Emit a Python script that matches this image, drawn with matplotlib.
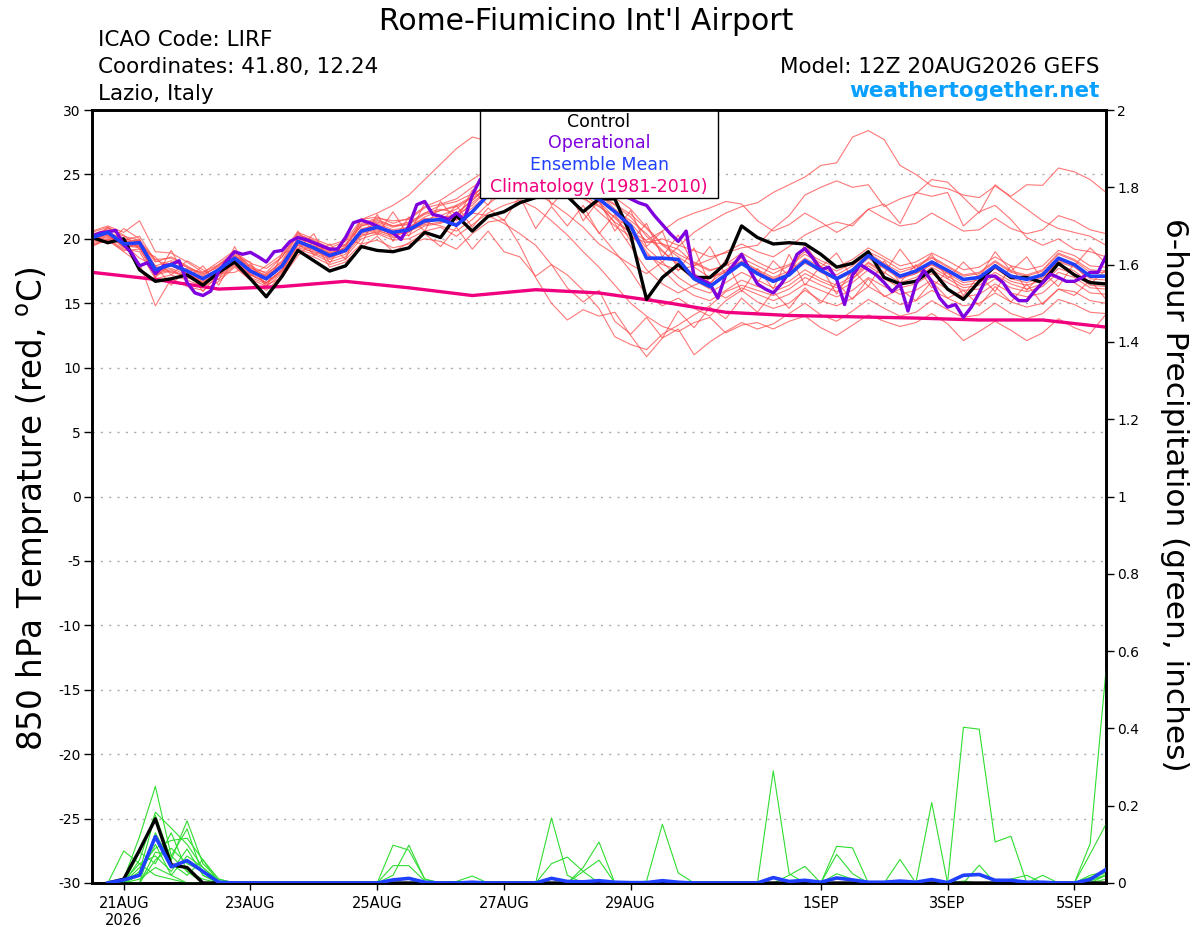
import numpy as np
import matplotlib
matplotlib.use("Agg")
import matplotlib.pyplot as plt
from matplotlib.patches import Rectangle

plt.rcParams['font.family'] = 'DejaVu Sans'
plt.rcParams['axes.unicode_minus'] = False

# forecast hours (run 12Z 20AUG2026)
horas6 = np.arange(0, 385, 6)
horas3 = np.arange(0, 385, 3)
horas24 = np.arange(0, 385, 24)
horas_pcp = horas6[1:]

tick_horas = [12, 60, 108, 156, 204, 276, 324, 372]
tick_fechas = ["21AUG\n2026", "23AUG", "25AUG", "27AUG", "29AUG", "1SEP", "3SEP", "5SEP"]

# ===== 850 hPa temperature (C) =====
control = [20.1, 19.7, 20.0, 17.6, 16.7, 16.9, 17.2, 16.4, 17.4, 18.2, 16.9, 15.5, 17.1,
           19.1, 18.3, 17.5, 17.9, 19.4, 19.1, 19.0, 19.3, 20.5, 20.1, 21.8, 20.6, 21.75,
           22.1, 22.8, 23.2, 23.5, 23.3, 22.1, 23.1, 23.1, 20.3, 15.3, 17.0, 18.0, 17.0,
           17.0, 18.1, 21.0, 20.1, 19.6, 19.7, 19.6, 18.8, 17.8, 18.1, 19.0, 17.0, 16.5,
           16.7, 17.6, 16.1, 15.3, 16.7, 17.9, 17.0, 17.0, 16.6, 18.1, 17.2, 16.6, 16.5]

media = [20.1, 20.5, 19.6, 19.7, 17.6, 18.0, 17.5, 16.9, 17.6, 18.5, 17.5, 16.9, 17.9,
         19.8, 19.3, 18.7, 19.1, 20.6, 20.9, 20.5, 20.7, 21.4, 21.5, 21.05, 22.1, 23.4,
         23.9, 24.1, 24.2, 24.0, 23.7, 23.4, 23.1, 22.1, 21.0, 18.5, 18.5, 18.4, 16.9,
         16.3, 17.2, 18.1, 17.3, 16.7, 17.2, 18.3, 17.55, 16.9, 17.55, 18.7, 17.9, 17.1,
         17.5, 18.2, 17.55, 16.85, 17.0, 17.9, 17.1, 16.85, 17.2, 18.5, 18.0, 17.1, 17.1]

# operational is 3-hourly
operacional = [20.2, 20.45, 20.55, 20.65, 19.55, 18.9, 17.9, 18.15, 17.3, 17.9, 18.0, 18.3,
               16.6, 15.8, 15.6, 15.95, 17.5, 18.3, 19.0, 18.8, 18.95, 18.6, 18.2, 19.0,
               19.1, 19.8, 20.1, 19.95, 19.7, 19.45, 19.2, 19.2, 20.1, 21.25, 21.45, 21.25,
               21.0, 20.7, 20.45, 19.95, 21.0, 22.65, 22.9, 21.9, 21.75,
               21.5, 22.0, 21.5, 23.4, 24.6, 24.8, 24.5, 24.7, 25.0, 25.2, 25.0, 24.8,
               25.0, 25.3, 25.1, 24.8, 24.6, 24.4, 24.3, 24.0, 23.8, 23.6, 23.4, 23.1, 22.8,
               22.6, 21.8, 21.1, 20.4, 19.8, 20.6, 17.1, 16.8, 16.5, 15.4, 17.2, 18.0, 18.8, 17.6,
               16.5, 16.1, 15.8, 16.5, 17.4, 18.8, 19.25, 18.5, 17.6, 17.8, 16.85, 14.9,
               17.2, 18.0, 17.6, 17.2, 16.6, 15.9, 16.5, 14.4, 16.5, 17.55, 16.7, 15.4,
               14.7, 14.9, 13.9, 14.7, 15.8, 17.1, 17.1, 16.6, 15.7, 15.2, 15.2, 15.95,
               16.6, 17.25, 17.0, 16.7, 16.7, 17.0, 17.4, 17.4, 18.65]

# climatology (1981-2010), daily
climatologia = [17.4, 16.85, 16.1, 16.3, 16.7, 16.2, 15.6, 16.05, 15.8, 15.1, 14.3,
                14.05, 13.95, 13.85, 13.7, 13.7, 13.15]

# ensemble members
tm01 = [20.3, 20.8, 20.2, 19.9, 18.2, 18.6, 17.9, 17.2, 17.9, 18.9, 17.9, 17.3, 18.2,
        20.1, 19.6, 19.0, 19.5, 21.0, 21.3, 20.9, 21.2, 22.0, 22.3, 22.0, 23.0, 24.2,
        24.8, 25.3, 25.6, 25.2, 24.6, 24.0, 23.5, 22.3, 21.2, 19.8, 19.6, 19.2, 18.1,
        17.5, 18.0, 18.9, 18.2, 17.6, 18.0, 19.0, 18.3, 17.8, 18.4, 19.3, 18.6, 17.9,
        18.2, 18.9, 18.3, 17.6, 17.8, 18.6, 17.9, 17.6, 17.9, 19.1, 18.7, 17.9, 17.8]
tm02 = [19.8, 20.2, 19.5, 19.3, 17.3, 17.6, 17.0, 16.5, 17.1, 18.0, 17.0, 16.5, 17.4,
        19.3, 19.0, 18.6, 19.4, 21.5, 22.0, 22.6, 23.4, 24.6, 25.8, 27.0, 27.9, 27.6,
        26.8, 26.2, 25.0, 24.4, 23.5, 22.0, 20.5, 19.0, 17.5, 15.6, 14.8, 15.4, 14.6,
        14.0, 15.2, 16.0, 15.1, 14.6, 15.0, 16.0, 15.2, 14.8, 15.4, 16.3, 15.6, 14.9,
        15.2, 16.0, 15.4, 14.8, 15.0, 15.8, 15.1, 14.7, 15.0, 16.1, 15.9, 15.2, 15.0]
tm03 = [19.6, 19.9, 19.0, 18.1, 14.8, 16.9, 16.3, 16.0, 16.7, 17.8, 16.8, 16.0, 17.1,
        19.0, 18.6, 18.0, 18.4, 19.6, 19.9, 19.3, 19.6, 20.0, 19.8, 19.2, 20.4, 21.3,
        21.5, 19.5, 17.0, 15.0, 13.7, 14.5, 14.0, 14.3, 12.5, 10.85, 12.3, 13.0, 11.0,
        12.0, 12.8, 13.5, 13.0, 13.4, 14.2, 15.0, 14.1, 13.6, 14.4, 15.3, 14.6, 14.0,
        14.3, 15.2, 14.5, 13.9, 14.1, 15.0, 14.2, 13.8, 14.2, 15.3, 14.9, 14.3, 14.2]
tm04 = [20.6, 21.0, 20.5, 21.4, 19.0, 18.9, 18.2, 17.4, 18.0, 19.0, 18.1, 17.7, 18.6,
        20.5, 20.0, 19.5, 19.9, 21.5, 21.7, 21.2, 21.6, 22.5, 23.0, 23.8, 24.6, 25.4,
        25.7, 26.0, 25.6, 24.9, 24.2, 23.4, 22.6, 21.3, 20.5, 19.9, 20.6, 21.5, 22.0,
        22.4, 22.9, 22.7, 21.4, 20.6, 21.1, 22.0, 21.3, 20.5, 21.2, 22.3, 21.6, 21.0,
        21.2, 22.0, 21.3, 20.6, 20.7, 21.6, 20.8, 20.4, 20.7, 21.8, 21.4, 20.7, 20.4]
tm05 = [20.0, 20.4, 19.8, 19.9, 17.9, 18.3, 17.8, 17.3, 17.8, 18.7, 17.8, 17.1, 18.1,
        20.0, 19.6, 19.1, 19.6, 21.0, 21.4, 21.0, 21.3, 22.0, 22.6, 22.9, 23.5, 24.1,
        24.5, 24.2, 23.6, 22.8, 21.9, 20.9, 19.6, 18.8, 18.0, 17.3, 18.2, 19.4, 20.5,
        21.3, 22.0, 22.5, 22.8, 23.6, 24.2, 24.8, 25.7, 25.9, 27.9, 28.4, 27.7, 25.7,
        25.0, 24.1, 23.9, 23.4, 23.2, 24.1, 23.3, 24.2, 24.15, 25.5, 25.2, 24.6, 23.6]
tm06 = [20.4, 20.6, 19.9, 20.2, 18.3, 18.0, 17.6, 17.4, 18.2, 19.1, 17.7, 17.4, 18.6,
        20.3, 19.9, 19.3, 19.8, 21.2, 21.6, 21.4, 21.5, 22.4, 22.7, 23.1, 24.0, 24.8,
        25.2, 25.5, 25.1, 24.6, 24.0, 23.3, 22.1, 21.0, 20.2, 19.7, 20.0, 19.5, 19.1,
        18.6, 18.9, 19.3, 19.5, 20.8, 21.8, 23.4, 24.0, 24.5, 24.0, 24.2, 22.5, 23.1,
        23.5, 24.6, 24.4, 23.2, 22.0, 24.2, 23.2, 22.3, 21.4, 20.8, 20.5, 20.2, 19.5]
tm07 = [19.9, 20.1, 19.7, 19.4, 17.5, 17.7, 17.2, 16.8, 17.4, 18.3, 17.3, 16.6, 17.6,
        19.5, 19.1, 18.5, 19.0, 20.3, 20.5, 20.1, 20.3, 21.0, 21.2, 21.7, 22.8, 23.8,
        24.4, 24.9, 25.3, 25.0, 24.4, 23.8, 22.9, 21.6, 20.4, 18.8, 18.0, 17.6, 17.9,
        18.4, 19.0, 19.6, 19.0, 18.6, 19.4, 20.3, 20.9, 21.3, 21.0, 22.3, 22.7, 21.2,
        23.6, 23.3, 23.6, 21.0, 22.1, 22.6, 21.5, 20.1, 19.5, 20.0, 19.2, 19.0, 18.6]
tm08 = [19.7, 20.0, 19.2, 19.0, 16.9, 17.2, 16.8, 16.3, 16.9, 17.9, 16.9, 16.3, 17.3,
        19.2, 18.8, 18.2, 18.6, 20.0, 20.4, 19.9, 20.0, 20.6, 20.9, 20.2, 21.1, 22.0,
        22.6, 23.0, 22.4, 21.4, 20.3, 19.0, 17.8, 16.4, 15.0, 14.0, 13.2, 12.8, 13.5,
        13.9, 12.7, 13.3, 13.5, 13.0, 13.6, 14.0, 13.1, 12.5, 13.3, 14.1, 13.6, 13.2,
        13.5, 14.2, 13.4, 12.1, 12.8, 13.6, 12.9, 12.1, 12.7, 13.8, 13.1, 12.65, 14.15]
tm09 = [20.2, 20.7, 19.4, 19.6, 17.0, 18.2, 17.3, 16.6, 17.5, 18.4, 17.4, 16.8, 17.8,
        19.8, 19.5, 18.9, 19.2, 20.8, 21.0, 20.6, 20.8, 21.3, 21.0, 20.6, 21.5, 22.7,
        23.6, 24.4, 24.9, 24.5, 24.0, 23.1, 22.5, 21.7, 20.8, 19.3, 18.2, 17.0, 16.2,
        15.8, 16.6, 17.4, 16.8, 16.2, 16.7, 17.6, 16.9, 16.4, 17.1, 18.2, 17.4, 16.6,
        17.0, 17.8, 17.1, 16.4, 16.6, 17.4, 16.7, 16.4, 16.8, 18.0, 17.5, 16.6, 16.6]
tm10 = [20.0, 20.3, 19.3, 19.5, 17.7, 17.4, 17.1, 17.0, 17.7, 18.6, 17.6, 17.0, 18.0,
        19.9, 19.4, 18.8, 19.3, 20.7, 21.2, 20.7, 20.9, 21.6, 21.4, 21.2, 22.0, 21.8,
        21.2, 20.4, 19.5, 18.0, 17.2, 16.0, 14.6, 12.4, 11.8, 11.4, 12.6, 13.3, 14.1,
        14.8, 15.9, 16.4, 16.0, 15.6, 16.1, 17.0, 16.4, 15.9, 16.6, 17.6, 16.9, 16.2,
        16.5, 17.3, 16.6, 16.0, 16.1, 16.9, 16.2, 15.9, 16.3, 17.4, 17.0, 16.2, 16.1]
tm11 = [20.5, 20.9, 20.0, 19.8, 18.4, 18.5, 17.8, 17.1, 18.0, 18.8, 17.6, 17.2, 18.3,
        20.4, 19.8, 19.1, 19.5, 21.1, 21.5, 21.0, 21.1, 21.9, 22.2, 22.6, 23.3, 24.3,
        24.9, 25.4, 25.8, 25.5, 24.7, 23.9, 22.8, 21.2, 19.4, 17.6, 16.5, 15.8, 16.4,
        16.9, 17.6, 18.3, 17.6, 17.0, 17.5, 18.5, 17.8, 17.2, 17.9, 18.9, 18.1, 17.4,
        17.8, 18.5, 17.8, 17.1, 17.3, 18.2, 17.4, 17.1, 17.5, 18.8, 18.3, 17.4, 17.4]
tm12 = [19.5, 19.9, 19.1, 19.2, 17.2, 17.5, 17.1, 16.7, 17.2, 18.1, 17.2, 16.6, 17.5,
        19.6, 19.2, 18.6, 19.0, 20.4, 20.7, 20.2, 20.6, 21.2, 21.6, 21.9, 23.0, 24.0,
        24.6, 25.0, 25.4, 25.1, 24.6, 24.0, 23.4, 22.7, 21.9, 20.8, 19.5, 18.6, 17.8,
        17.0, 17.4, 18.0, 17.4, 16.9, 17.3, 18.1, 17.5, 17.0, 17.6, 18.6, 17.8, 17.0,
        17.3, 18.0, 17.4, 16.8, 17.0, 17.8, 17.1, 16.8, 17.2, 18.3, 17.9, 17.0, 17.0]
tm13 = [20.1, 20.4, 19.9, 19.6, 17.8, 17.9, 17.5, 16.8, 17.6, 18.6, 17.5, 17.1, 18.0,
        19.7, 19.4, 18.9, 19.3, 20.6, 20.8, 20.4, 20.9, 21.7, 22.2, 22.5, 23.2, 23.9,
        24.3, 24.6, 24.7, 24.4, 24.0, 23.6, 23.0, 22.2, 21.4, 20.4, 19.1, 17.9, 16.8,
        16.1, 15.4, 16.2, 15.7, 15.2, 15.7, 16.5, 16.0, 15.5, 16.0, 17.0, 16.3, 15.7,
        16.0, 16.8, 16.1, 15.5, 15.7, 16.5, 15.8, 15.5, 15.8, 16.9, 16.6, 15.8, 15.7]
tm14 = [20.3, 20.5, 19.6, 19.4, 17.4, 17.9, 17.3, 16.6, 17.4, 18.2, 17.2, 16.6, 17.6,
        19.5, 18.9, 18.4, 18.8, 20.2, 20.6, 20.3, 20.5, 21.5, 21.8, 22.3, 23.3, 24.4,
        25.0, 25.2, 25.5, 25.3, 25.0, 24.5, 24.0, 23.2, 22.3, 20.9, 19.6, 18.8, 18.2,
        17.6, 17.9, 18.5, 17.9, 17.3, 17.9, 18.8, 18.1, 17.5, 18.1, 19.0, 18.4, 17.6,
        17.9, 18.6, 17.9, 17.2, 17.4, 18.3, 17.5, 17.2, 17.6, 18.9, 18.4, 17.6, 17.5]
tm15 = [19.9, 20.3, 19.4, 19.9, 17.6, 18.1, 17.6, 17.0, 17.6, 18.4, 17.5, 16.9, 17.9,
        19.9, 19.3, 18.7, 19.1, 20.5, 20.9, 20.4, 20.6, 21.1, 21.3, 21.5, 22.4, 23.5,
        24.2, 24.8, 25.0, 24.7, 24.2, 23.7, 23.1, 22.0, 20.8, 19.0, 17.6, 16.4, 15.6,
        15.2, 16.0, 16.8, 16.3, 15.9, 16.4, 17.3, 16.7, 16.2, 16.9, 17.9, 17.1, 16.4,
        16.8, 17.6, 16.9, 16.2, 16.4, 17.2, 16.5, 16.1, 16.5, 17.7, 17.3, 16.4, 16.3]
tm16 = [20.2, 20.6, 19.7, 19.8, 17.5, 18.0, 17.4, 16.9, 17.5, 18.5, 17.4, 16.8, 17.8,
        19.7, 19.2, 18.6, 19.0, 20.5, 20.8, 20.4, 20.6, 21.3, 21.6, 21.8, 22.6, 23.8,
        24.4, 24.8, 25.1, 24.8, 24.3, 23.9, 23.4, 22.6, 21.7, 20.2, 19.0, 18.1, 17.3,
        16.6, 17.5, 18.2, 17.5, 16.8, 17.2, 18.2, 17.4, 16.8, 17.4, 18.5, 17.7, 16.9,
        17.3, 18.0, 17.3, 16.6, 16.8, 17.7, 16.9, 16.6, 17.0, 18.2, 17.8, 16.9, 16.8]
tm17 = [19.8, 20.9, 20.3, 19.2, 18.6, 17.2, 18.3, 17.6, 16.8, 19.4, 17.1, 17.9, 18.8,
        20.6, 18.7, 19.6, 18.4, 21.6, 20.3, 22.1, 20.2, 22.8, 21.3, 22.6, 20.9, 22.4,
        21.4, 23.3, 20.8, 22.5, 21.0, 22.6, 20.4, 21.9, 19.8, 21.2, 18.6, 20.3, 17.9,
        19.4, 17.2, 18.7, 16.6, 18.3, 17.1, 19.6, 17.8, 18.9, 16.9, 18.1, 17.3, 19.2,
        17.6, 18.8, 16.9, 18.2, 17.0, 19.0, 17.5, 18.6, 16.8, 18.4, 17.9, 19.3, 18.1]
tm18 = [20.5, 19.6, 20.8, 20.0, 17.0, 19.1, 16.9, 17.9, 16.4, 18.6, 18.2, 16.2, 18.9,
        19.2, 20.4, 18.1, 20.0, 19.6, 21.9, 19.8, 21.7, 20.6, 22.9, 21.4, 23.8, 22.6,
        24.6, 23.1, 25.4, 22.6, 24.0, 21.4, 23.0, 20.6, 22.2, 19.4, 20.6, 17.5, 19.3,
        16.4, 18.4, 15.9, 17.7, 16.1, 18.8, 16.4, 17.9, 15.7, 17.6, 16.3, 18.3, 16.6,
        18.0, 16.2, 17.5, 15.6, 17.2, 15.9, 17.9, 16.0, 17.4, 16.3, 18.1, 16.5, 17.6]
tm19 = [19.4, 20.0, 19.6, 18.5, 17.9, 16.4, 17.7, 15.9, 17.3, 17.4, 18.0, 16.4, 17.0,
        18.7, 19.8, 17.8, 18.2, 19.3, 20.2, 19.0, 19.7, 20.4, 19.4, 20.9, 19.2, 20.6,
        19.0, 18.6, 17.1, 18.0, 16.2, 15.1, 16.0, 13.6, 12.6, 13.9, 12.3, 14.4, 13.1,
        14.7, 13.8, 15.4, 14.3, 15.9, 14.6, 16.2, 15.0, 16.6, 15.3, 16.9, 15.5, 16.1,
        15.2, 16.7, 15.4, 16.0, 14.8, 16.3, 15.1, 16.5, 14.9, 16.1, 15.6, 16.8, 15.3]
miembros_temp = [tm01, tm02, tm03, tm04, tm05, tm06, tm07, tm08, tm09, tm10,
                 tm11, tm12, tm13, tm14, tm15, tm16, tm17, tm18, tm19]

# ===== 6-hour precipitation (inches), f006..f384 =====
pcp_control = [0, 0.01, 0.085, 0.166, 0.047, 0.04, 0, 0, 0, 0, 0, 0, 0, 0, 0, 0,
               0, 0, 0, 0, 0, 0, 0, 0, 0, 0, 0, 0, 0, 0, 0, 0,
               0, 0, 0, 0, 0, 0, 0, 0, 0, 0, 0, 0, 0, 0, 0, 0,
               0, 0, 0, 0, 0, 0, 0, 0, 0, 0, 0, 0, 0, 0, 0, 0]
pcp_media = [0, 0.008, 0.02, 0.12, 0.042, 0.058, 0.03, 0.002, 0, 0, 0, 0, 0, 0, 0, 0,
             0, 0, 0.008, 0.012, 0.002, 0, 0, 0.002, 0, 0, 0, 0, 0.012, 0.004, 0.003, 0.006,
             0.002, 0.001, 0.001, 0.006, 0.002, 0, 0, 0, 0, 0, 0.014, 0.004, 0.007, 0.002, 0.013, 0.008,
             0.002, 0.002, 0.005, 0.002, 0.009, 0.001, 0.02, 0.022, 0.007, 0.007, 0.002, 0.002, 0, 0, 0.009, 0.035]

pm01 = [0, 0.083, 0.05, 0.02, 0.01, 0, 0, 0, 0, 0, 0, 0, 0, 0, 0, 0,
        0, 0, 0.098, 0.085, 0.01, 0, 0, 0, 0, 0, 0, 0, 0, 0, 0, 0,
        0, 0, 0, 0, 0, 0, 0, 0, 0, 0, 0, 0, 0, 0, 0, 0,
        0, 0, 0, 0, 0.208, 0, 0, 0, 0, 0, 0, 0, 0, 0, 0.01, 0.02]
pm02 = [0, 0.01, 0.12, 0.25, 0.07, 0.03, 0.01, 0, 0, 0, 0, 0, 0, 0, 0, 0,
        0, 0, 0.02, 0.098, 0.01, 0, 0, 0, 0, 0, 0, 0, 0, 0, 0, 0,
        0, 0, 0, 0, 0, 0, 0, 0, 0, 0, 0, 0, 0, 0, 0, 0,
        0, 0, 0, 0, 0, 0, 0.403, 0.398, 0.106, 0.121, 0, 0.02, 0, 0, 0, 0]
pm03 = [0, 0, 0.06, 0.183, 0.142, 0.1, 0.04, 0.005, 0, 0, 0, 0, 0, 0, 0, 0,
        0, 0, 0.045, 0.045, 0.005, 0, 0, 0, 0, 0, 0, 0, 0, 0, 0, 0,
        0, 0, 0, 0, 0, 0, 0, 0, 0, 0, 0.29, 0.024, 0, 0, 0, 0,
        0, 0, 0, 0, 0, 0, 0, 0, 0, 0, 0, 0, 0, 0, 0.02, 0.03]
pm04 = [0, 0, 0.03, 0.175, 0.06, 0.161, 0.05, 0.01, 0, 0, 0, 0, 0, 0, 0, 0,
        0, 0, 0, 0, 0, 0, 0, 0, 0, 0, 0, 0, 0.168, 0.02, 0, 0,
        0, 0, 0, 0, 0, 0, 0, 0, 0, 0, 0, 0, 0, 0, 0, 0,
        0, 0, 0, 0, 0, 0, 0, 0, 0, 0, 0, 0, 0, 0, 0.102, 0.55]
pm05 = [0, 0, 0.04, 0.09, 0.11, 0.116, 0.06, 0.01, 0, 0, 0, 0, 0, 0, 0, 0,
        0, 0, 0, 0, 0, 0, 0, 0, 0, 0, 0, 0, 0.05, 0.067, 0.03, 0,
        0, 0, 0, 0, 0, 0, 0, 0, 0, 0, 0, 0, 0, 0, 0.095, 0.091,
        0, 0, 0, 0, 0, 0, 0, 0, 0, 0, 0, 0, 0, 0, 0, 0]
pm06 = [0, 0.005, 0.05, 0.07, 0.03, 0.088, 0.02, 0, 0, 0, 0, 0, 0, 0, 0, 0,
        0, 0, 0, 0, 0, 0, 0, 0, 0, 0, 0, 0, 0, 0, 0.04, 0.106,
        0, 0, 0.005, 0.152, 0.026, 0, 0, 0, 0, 0, 0, 0, 0, 0, 0, 0,
        0, 0, 0, 0, 0, 0, 0, 0.046, 0, 0, 0, 0, 0, 0, 0.075, 0.152]
pm07 = [0, 0, 0, 0.06, 0.09, 0.05, 0.03, 0, 0, 0, 0, 0, 0, 0, 0, 0,
        0, 0, 0, 0, 0, 0, 0.004, 0.018, 0, 0, 0, 0, 0, 0, 0.03, 0.059,
        0, 0, 0, 0, 0, 0, 0, 0, 0, 0, 0, 0.02, 0.043, 0, 0.074, 0.024,
        0, 0, 0, 0, 0, 0, 0, 0, 0, 0, 0, 0, 0, 0, 0.01, 0.03]
pm08 = [0, 0, 0.02, 0.1, 0.02, 0.07, 0.04, 0.005, 0, 0, 0, 0, 0, 0, 0, 0,
        0, 0, 0, 0, 0, 0, 0, 0, 0, 0, 0, 0, 0, 0, 0, 0,
        0, 0, 0, 0, 0, 0, 0, 0, 0, 0, 0, 0, 0, 0, 0.024, 0.01,
        0, 0, 0.061, 0, 0, 0, 0, 0, 0, 0, 0, 0, 0, 0, 0.005, 0.02]
pm09 = [0, 0, 0, 0.13, 0.05, 0.02, 0.06, 0, 0, 0, 0, 0, 0, 0, 0, 0,
        0, 0, 0, 0, 0, 0, 0, 0, 0, 0, 0, 0, 0, 0, 0, 0,
        0, 0, 0, 0, 0, 0, 0, 0, 0, 0, 0, 0, 0, 0, 0, 0,
        0, 0, 0, 0, 0, 0, 0, 0, 0, 0.01, 0.02, 0, 0, 0, 0, 0.01]
pm10 = [0, 0, 0.08, 0.05, 0.13, 0.03, 0, 0, 0, 0, 0, 0, 0, 0, 0, 0,
        0, 0, 0, 0, 0, 0, 0, 0, 0, 0, 0, 0, 0, 0, 0, 0,
        0, 0, 0, 0, 0, 0, 0, 0, 0, 0, 0, 0, 0, 0, 0, 0,
        0, 0, 0, 0, 0, 0, 0.005, 0, 0, 0, 0, 0, 0, 0, 0, 0.02]
pm11 = [0, 0, 0, 0.08, 0.07, 0.14, 0.02, 0, 0, 0, 0, 0, 0, 0, 0, 0,
        0, 0, 0, 0, 0, 0, 0, 0, 0, 0, 0, 0, 0, 0, 0, 0,
        0, 0, 0, 0, 0, 0, 0, 0, 0, 0, 0, 0, 0, 0, 0, 0,
        0, 0, 0, 0, 0, 0, 0, 0, 0, 0, 0, 0, 0, 0, 0.015, 0.025]
pm12 = [0, 0, 0.01, 0.04, 0.02, 0, 0, 0, 0, 0, 0, 0, 0, 0, 0, 0,
        0, 0, 0, 0, 0, 0, 0, 0, 0, 0, 0, 0, 0, 0, 0, 0,
        0, 0, 0, 0, 0, 0, 0, 0, 0, 0, 0, 0, 0, 0, 0, 0,
        0, 0, 0, 0, 0, 0, 0, 0, 0, 0, 0, 0, 0, 0, 0, 0]
miembros_pcp = [pm01, pm02, pm03, pm04, pm05, pm06, pm07, pm08, pm09, pm10, pm11, pm12]

# ===== figure =====
fig = plt.figure(figsize=(12, 9.27), dpi=100)
ax = fig.add_axes([92 / 1200, 44 / 927, 1014 / 1200, 773 / 927])
ax2 = ax.twinx()

for m in miembros_temp:
    ax.plot(horas6, m, color='#ff4a4a', lw=0.8, alpha=0.75, zorder=2)
ax.plot(horas24, climatologia, color='#f0007f', lw=2.4, zorder=3)
ax.plot(horas6, control, color='black', lw=2.4, zorder=4)
ax.plot(horas3, operacional, color='#7f00df', lw=2.4, zorder=5)
ax.plot(horas6, media, color='#2040ff', lw=2.6, zorder=6)

for m in miembros_pcp:
    ax2.plot(horas_pcp, m, color='#30dd30', lw=0.8, zorder=2)
ax2.plot(horas_pcp, pcp_control, color='black', lw=2.4, zorder=4)
ax2.plot(horas_pcp, pcp_media, color='#2040ff', lw=2.6, zorder=5)

ax.set_xlim(0, 384)
ax.set_ylim(-30, 30)
ax2.set_ylim(0, 2)

ax.set_yticks(np.arange(-30, 31, 5))
ax2.set_yticks(np.arange(0, 2.01, 0.2))
ax2.set_yticklabels(["0", "0.2", "0.4", "0.6", "0.8", "1", "1.2", "1.4", "1.6", "1.8", "2"])
ax.set_xticks(tick_horas)
ax.set_xticklabels(tick_fechas)

ax.grid(axis='y', color='#aaaaaa', linestyle=(0, (1.5, 4.5)), linewidth=1)
ax.tick_params(axis='y', direction='out', length=6, width=1, labelsize=10, pad=2)
ax2.tick_params(axis='y', direction='out', length=6, width=1, labelsize=10, pad=2)
ax.tick_params(axis='x', direction='out', length=5, width=1, labelsize=10.5, pad=4)
for a in (ax, ax2):
    for s in a.spines.values():
        s.set_linewidth(1.9)

# legend box (drawn by hand, covers the lines)
ax.add_patch(Rectangle((0.3826, 0.8862), 0.2347, 0.1138, transform=ax.transAxes,
                       facecolor='white', edgecolor='black', lw=1, zorder=10))
leyenda = [("Control", 'black', 0.9784), ("Operational", '#7f00df', 0.9505),
           ("Ensemble Mean", '#2040ff', 0.9224), ("Climatology (1981-2010)", '#f0007f', 0.8943)]
for texto, col, yy in leyenda:
    ax.text(0.5, yy, texto, color=col, fontsize=12.5, ha='center', va='baseline',
            transform=ax.transAxes, zorder=11)

# titles
fig.text(586 / 1200, 1 - 30 / 927, "Rome-Fiumicino Int'l Airport", fontsize=21.5,
         ha='center', va='baseline')
fig.text(98 / 1200, 1 - 46 / 927, "ICAO Code: LIRF", fontsize=15.5, va='baseline')
fig.text(98 / 1200, 1 - 73 / 927, "Coordinates: 41.80, 12.24", fontsize=15.5, va='baseline')
fig.text(98 / 1200, 1 - 100 / 927, "Lazio, Italy", fontsize=15.5, va='baseline')
fig.text(1100 / 1200, 1 - 73 / 927, "Model: 12Z 20AUG2026 GEFS", fontsize=15.5,
         ha='right', va='baseline')
fig.text(1100 / 1200, 1 - 97 / 927, "weathertogether.net", fontsize=15.5, fontweight='bold',
         color='#0aa0ff', ha='right', va='baseline')

fig.text(33 / 1200, 1 - 509 / 927, r"850 hPa Temprature (red, $^{\mathrm{o}}$C)", fontsize=23.5,
         rotation=90, ha='center', va='center')
fig.text(1175 / 1200, 1 - 495 / 927, "6-hour Precipitation (green, inches)", fontsize=22.5,
         rotation=270, ha='center', va='center')

fig.savefig("out.png", dpi=100)
